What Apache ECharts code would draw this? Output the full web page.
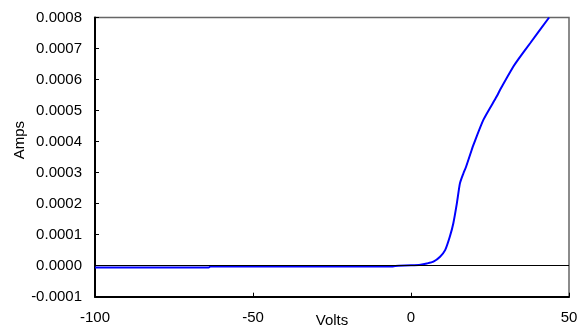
<!DOCTYPE html>
<html>
<head>
<meta charset="utf-8">
<script src="https://cdn.jsdelivr.net/npm/echarts@6/dist/echarts.min.js"></script>
<style>
html, body { margin: 0; padding: 0; background: #fff; }
#iv-chart-box { width: 578px; height: 328px; }
</style>
</head>
<body>
<div id="iv-chart-box"></div>
<script>
// values
var volts = [-100, -64, -63.5, -6, -5, 0, 3, 5, 7.1, 9.2, 10.8, 12.3, 13.4, 14.5, 15.5, 16.6, 17.4, 19.2, 19.7, 22.9, 27.1, 28.2, 32.4, 34, 37.7, 43.7];
var amps = [-0.000006, -0.000006, -0.000003, -0.000003, -0.000001, 0.000001, 0.000003, 0.000007, 0.000013, 0.000029, 0.00005, 0.000094, 0.000137, 0.0002, 0.000266, 0.000298, 0.000318, 0.000373, 0.000388, 0.00047, 0.000545, 0.000567, 0.000642, 0.000666, 0.000717, 0.0008];
var xTicks = [-100, -50, 0, 50];

var font = 'Liberation Sans';

var points = [];
for (var i = 0; i < volts.length; i++) {
    points.push([volts[i], amps[i]]);
}

var chart = echarts.init(document.getElementById('iv-chart-box'));
var option = {
    backgroundColor: '#fff',
    animation: false,
    grid: {
        left: 95,
        right: 9,
        top: 17.5,
        bottom: 31.3,
        outerBoundsMode: 'none',
        show: true,
        borderColor: '#666',
        borderWidth: 1.5
    },
    xAxis: {
        type: 'value',
        min: xTicks[0],
        max: xTicks[xTicks.length - 1],
        interval: 50,
        name: 'Volts',
        nameLocation: 'middle',
        nameGap: 17,
        nameMoveOverlap: false,
        nameTextStyle: { fontFamily: font, fontSize: 15, color: '#000' },
        axisLine: { onZero: false, lineStyle: { color: '#000', width: 2 } },
        axisTick: { inside: true, length: 4, lineStyle: { color: '#000' } },
        axisLabel: { fontFamily: font, fontSize: 15, color: '#000', margin: 14 },
        splitLine: { show: false }
    },
    yAxis: {
        type: 'value',
        min: -0.0001,
        max: 0.0008,
        interval: 0.0001,
        name: 'Amps',
        nameLocation: 'middle',
        nameGap: 68,
        nameMoveOverlap: false,
        nameTextStyle: { fontFamily: font, fontSize: 15, color: '#000', padding: [0, 0, 0, 34] },
        axisLine: { onZero: false, lineStyle: { color: '#000', width: 2 } },
        axisTick: { inside: true, length: 4, lineStyle: { color: '#000' } },
        axisLabel: {
            fontFamily: font, fontSize: 15, color: '#000', margin: 13,
            formatter: function (v) { return v.toFixed(4); }
        },
        splitLine: { show: false }
    },
    series: [{
        type: 'line',
        data: points,
        showSymbol: false,
        symbol: 'none',
        smooth: 0.2,
        lineStyle: { color: '#0000ff', width: 2 },
        markLine: {
            silent: true,
            symbol: 'none',
            label: { show: false },
            lineStyle: { color: '#000', width: 1, type: 'solid' },
            data: [{ yAxis: 0 }]
        }
    }]
};
chart.setOption(option);
</script>
</body>
</html>
